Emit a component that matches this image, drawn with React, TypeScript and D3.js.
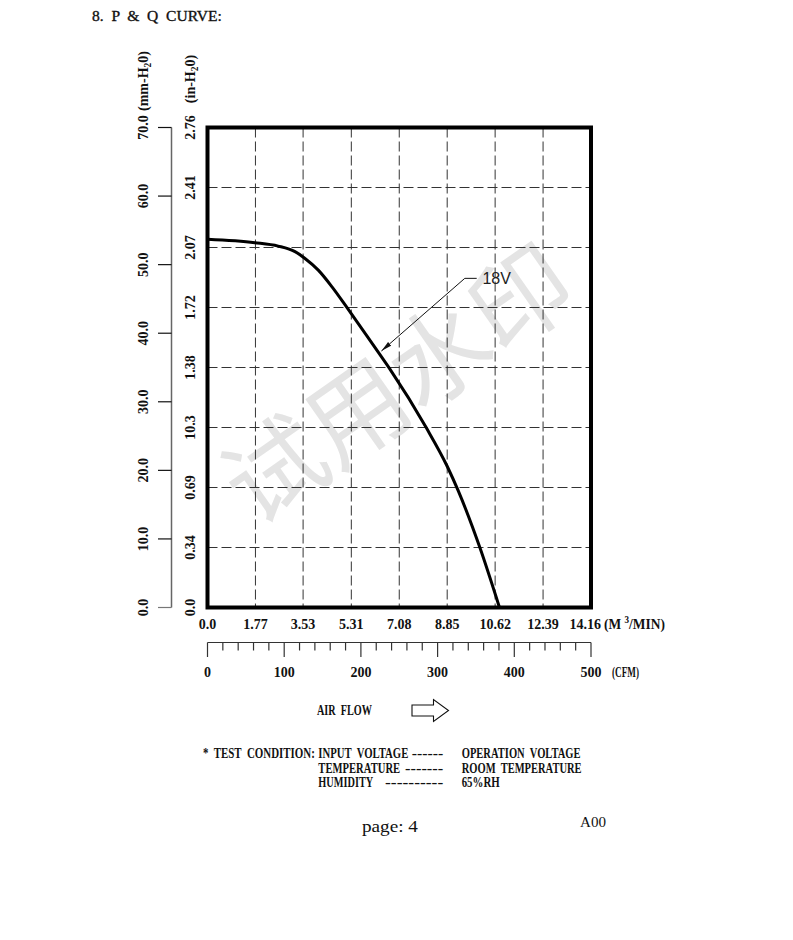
import { useEffect, useRef } from "react";
import * as d3 from "d3";

// P-Q curve, flow in M3/MIN, static pressure in mm-H2O
const flow = [0, 1.75, 2.61, 3.23, 3.6, 4.09, 4.59, 5.14, 5.69, 6.31, 6.73, 8.08, 8.85, 9.26, 10.06, 10.78];
const pressure = [53.7, 53.2, 52.7, 51.9, 50.9, 49.2, 46.8, 43.8, 40.7, 37.2, 34.8, 26.2, 20.6, 17.0, 8.7, 0];

const flowTicks = [0, 1.77, 3.53, 5.31, 7.08, 8.85, 10.62, 12.39, 14.16];
const flowTickLabels = ["0.0", "1.77", "3.53", "5.31", "7.08", "8.85", "10.62", "12.39", "14.16"];
const cfmTicks = [0, 100, 200, 300, 400, 500];
const mmTicks = [0, 10, 20, 30, 40, 50, 60, 70];
const mmTickLabels = ["0.0", "10.0", "20.0", "30.0", "40.0", "50.0", "60.0", "70.0"];
const inTicks = [0, 0.345, 0.69, 1.035, 1.38, 1.725, 2.07, 2.415, 2.76];
const inTickLabels = ["0.0", "0.34", "0.69", "10.3", "1.38", "1.72", "2.07", "2.41", "2.76"];

const curveLabel = "18V";
const labelTip = [6.42, 37.4];
const labelElbow = [9.5, 48.0];
const labelEnd = [9.94, 48.0];
const labelAt = [10.15, 47.2];

const conditionKeys = ["INPUT  VOLTAGE", "TEMPERATURE", "HUMIDITY"];
const conditionDashes = ["------", "-------", "----------"];
const conditionValues = ["OPERATION  VOLTAGE", "ROOM  TEMPERATURE", "65%RH"];

const SERIF = "'Liberation Serif', 'Times New Roman', serif";

export default function App() {
  const ref = useRef<SVGSVGElement>(null);

  useEffect(() => {
    if (!ref.current) return;
    const svg = d3.select(ref.current);
    svg.selectAll("*").remove();

    const m = { l: 207.5, r: 591, t: 127.5, b: 607.5 };
    const x = d3.scaleLinear().domain([0, 14.16]).range([m.l, m.r]);
    const xCfm = d3.scaleLinear().domain([0, 500]).range([m.l, m.r]);
    const yMm = d3.scaleLinear().domain([0, 70]).range([m.b, m.t]);
    const yIn = d3.scaleLinear().domain([0, 2.76]).range([m.b, m.t]);

    svg.append("rect").attr("width", 793).attr("height", 940).attr("fill", "#fff");

    const defs = svg.append("defs");
    defs.append("marker")
      .attr("id", "tip").attr("markerUnits", "userSpaceOnUse")
      .attr("markerWidth", 11).attr("markerHeight", 6)
      .attr("refX", 11).attr("refY", 3).attr("orient", "auto")
      .append("path").attr("d", "M0,0.6 L11,3 L0,5.4 Z").attr("fill", "#111");

    // text helper; `w` squeezes the text horizontally to a given width
    const txt = (g: any, s: string, px: number, py: number, opts: any = {}) => {
      const t = g.append("text")
        .attr("font-family", opts.family || SERIF)
        .attr("font-size", opts.size || 14)
        .attr("font-weight", opts.weight || "bold")
        .attr("fill", opts.fill || "#111")
        .attr("text-anchor", opts.anchor || "start")
        .attr("transform", `translate(${px},${py})${opts.rot ? ` rotate(${opts.rot})` : ""}`)
        .style("white-space", "pre")
        .text(s);
      if (opts.build) opts.build(t);
      if (opts.w) {
        const nat = t.node().getComputedTextLength();
        const k = nat > 0 ? opts.w / nat : 1;
        t.attr("transform", `translate(${px},${py}) scale(${k},1)`);
      }
      return t;
    };

    // heading
    txt(svg, "8.  P  &  Q  CURVE:", 92, 21, { size: 15, weight: "normal", w: 130 })
      .attr("stroke", "#111").attr("stroke-width", 0.35);

    // watermark
    svg.append("text")
      .attr("transform", "translate(394,378) rotate(-35)")
      .attr("text-anchor", "middle").attr("dominant-baseline", "central")
      .attr("font-family", "'Noto Sans CJK SC', sans-serif")
      .attr("font-size", 100)
      .attr("fill", "#e4e4e4")
      .text("试用水印");

    // grid
    const grid = svg.append("g").attr("stroke", "#333").attr("stroke-width", 1).attr("stroke-dasharray", "10 4");
    grid.selectAll("line.v").data(flowTicks.slice(1, -1)).join("line")
      .attr("x1", (d) => x(d)).attr("x2", (d) => x(d))
      .attr("y1", m.t).attr("y2", m.b);
    grid.selectAll("line.h").data(inTicks.slice(1, -1)).join("line")
      .attr("x1", m.l).attr("x2", m.r)
      .attr("y1", (d) => yIn(d)).attr("y2", (d) => yIn(d));

    // plot frame
    svg.append("rect")
      .attr("x", m.l).attr("y", m.t).attr("width", m.r - m.l).attr("height", m.b - m.t)
      .attr("fill", "none").attr("stroke", "#000").attr("stroke-width", 4);

    // mm-H2O axis
    const mmX = 171.5;
    svg.append("line").attr("x1", mmX).attr("x2", mmX).attr("y1", yMm(70)).attr("y2", yMm(0))
      .attr("stroke", "#666").attr("stroke-width", 1.5);
    svg.selectAll("line.mm").data(mmTicks).join("line")
      .attr("x1", 158).attr("x2", mmX)
      .attr("y1", (d) => yMm(d)).attr("y2", (d) => yMm(d))
      .attr("stroke", (d) => (d === 0 ? "#777" : "#111")).attr("stroke-width", 1.2);
    mmTicks.forEach((d, i) => {
      txt(svg, mmTickLabels[i], 147.5, yMm(d), { anchor: "middle", rot: -90 });
    });
    inTicks.forEach((d, i) => {
      txt(svg, inTickLabels[i], 194.5, yIn(d), { anchor: "middle", rot: -90 });
    });

    const unitTitle = (px: number, py: number, pre: string) =>
      txt(svg, "", px, py, {
        anchor: "middle", rot: -90,
        build: (t: any) => {
          t.append("tspan").text(pre + "-H");
          t.append("tspan").attr("dy", 3).attr("font-size", 9.5).text("2");
          t.append("tspan").attr("dy", -3).text("0)");
        },
      });
    unitTitle(148, 81, "(mm");
    unitTitle(194.5, 79, "(in");

    // curve
    const pts = flow.map((f, i) => [f, pressure[i]] as [number, number]);
    const line = d3.line<[number, number]>()
      .x((d) => x(d[0]))
      .y((d) => yMm(d[1]))
      .curve(d3.curveMonotoneX);
    svg.append("path").datum(pts)
      .attr("fill", "none").attr("stroke", "#000").attr("stroke-width", 3)
      .attr("d", line);

    // curve label with leader
    svg.append("path")
      .attr("d", `M${x(labelEnd[0])},${yMm(labelEnd[1])} L${x(labelElbow[0])},${yMm(labelElbow[1])} L${x(labelTip[0])},${yMm(labelTip[1])}`)
      .attr("fill", "none").attr("stroke", "#111").attr("stroke-width", 1)
      .attr("marker-end", "url(#tip)");
    txt(svg, curveLabel, x(labelAt[0]), yMm(labelAt[1]), {
      family: "'Liberation Sans', Arial, sans-serif", weight: "normal", size: 16, fill: "#222",
    });

    // M3/MIN tick labels
    flowTicks.forEach((d, i) => {
      const last = i === flowTicks.length - 1;
      txt(svg, flowTickLabels[i], last ? x(d) + 10 : x(d), 629, { anchor: last ? "end" : "middle" });
    });
    txt(svg, "", 604, 629, {
      w: 61,
      build: (t: any) => {
        t.append("tspan").text("(M ");
        t.append("tspan").attr("dy", -6).attr("font-size", 9.5).text("3");
        t.append("tspan").attr("dy", 6).text("/MIN)");
      },
    });

    // CFM scale
    const cfmY = 642.5;
    svg.append("line").attr("x1", xCfm(0)).attr("x2", xCfm(500)).attr("y1", cfmY).attr("y2", cfmY)
      .attr("stroke", "#333").attr("stroke-width", 1.2);
    svg.selectAll("line.cfm").data(d3.range(0, 501, 20)).join("line")
      .attr("x1", (d) => xCfm(d)).attr("x2", (d) => xCfm(d))
      .attr("y1", cfmY).attr("y2", (d) => (d % 100 === 0 ? 657 : 650.5))
      .attr("stroke", "#333").attr("stroke-width", 1.2);
    cfmTicks.forEach((d) => {
      txt(svg, String(d), xCfm(d), 677, { anchor: "middle" });
    });
    txt(svg, "(CFM)", 612, 677, { size: 15, w: 27 });

    // air flow direction
    txt(svg, "AIR  FLOW", 317, 715, { size: 15, w: 55 });
    svg.append("path")
      .attr("d", "M412,705 L433.5,705 L433.5,699.5 L448.5,710.5 L433.5,721.5 L433.5,716 L412,716 Z")
      .attr("fill", "none").attr("stroke", "#111").attr("stroke-width", 1.1);

    // test conditions
    txt(svg, "*  TEST  CONDITION:", 203, 757.5, { w: 112 });
    const keyLens = [90, 82, 55];
    const dashSpans = [[411.7, 443.3], [405, 443.3], [385, 443.3]];
    const valLens = [119, 120, 38];
    const rowY = [757.5, 772.5, 787];
    conditionKeys.forEach((k, i) => {
      txt(svg, k, 318.3, rowY[i], { w: keyLens[i] });
      txt(svg, conditionDashes[i], dashSpans[i][0], rowY[i], { w: dashSpans[i][1] - dashSpans[i][0] });
      txt(svg, conditionValues[i], 461.7, rowY[i], { w: valLens[i] });
    });

    // footer
    txt(svg, "page: 4", 362, 832, { size: 16, weight: "normal", w: 56 });
    txt(svg, "A00", 580, 827, { size: 15, weight: "normal", w: 26 });
  }, []);

  return (
    <svg
      ref={ref}
      width={793}
      height={940}
      style={{ position: "absolute", left: 0, top: 0, display: "block" }}
    />
  );
}
